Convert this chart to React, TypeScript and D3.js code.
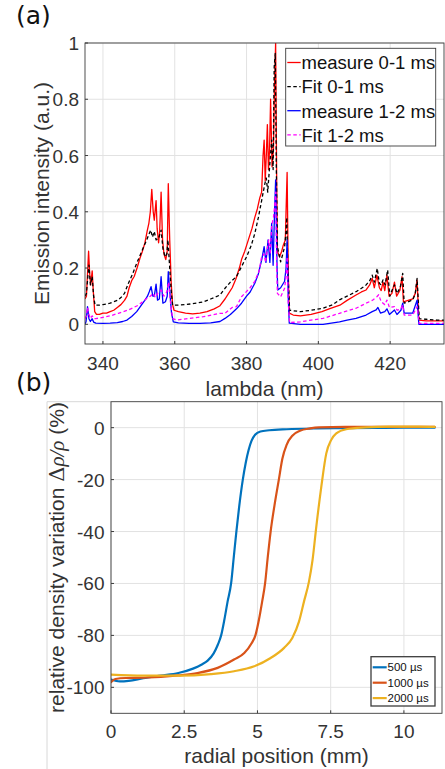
import React from 'react';
import * as d3 from 'd3';

// ---------- Panel (a): emission spectra ----------
const measure01: [number, number][] = [
  [335.0, 0.09], [335.4, 0.10], [335.7, 0.18], [336.0, 0.26], [336.3, 0.18], [336.6, 0.14], [337.0, 0.19],
  [337.3, 0.12], [337.7, 0.045], [338.2, 0.035], [339, 0.035], [340, 0.04], [341, 0.04], [342, 0.045],
  [343, 0.05], [344, 0.06], [345, 0.07], [346, 0.085], [346.7, 0.1], [347.3, 0.13], [348, 0.155],
  [348.7, 0.17], [349.5, 0.2], [350.3, 0.235], [351, 0.26], [351.7, 0.29], [352.3, 0.33], [352.8, 0.36],
  [353.2, 0.40], [353.6, 0.48], [354.0, 0.40], [354.3, 0.37], [354.8, 0.44], [355.1, 0.34], [355.5, 0.29],
  [355.8, 0.33], [356.2, 0.47], [356.6, 0.30], [357.0, 0.25], [357.5, 0.23], [357.9, 0.26], [358.2, 0.50],
  [358.6, 0.30], [359.0, 0.15], [359.4, 0.07], [359.8, 0.05], [361, 0.045], [363, 0.04], [365, 0.037],
  [367, 0.04], [369, 0.045], [371, 0.055], [372.5, 0.065], [374, 0.09], [375, 0.11], [376, 0.13],
  [377, 0.16], [378, 0.2], [378.6, 0.23], [379.5, 0.26], [380.5, 0.3], [381.5, 0.34], [382.3, 0.38],
  [383, 0.41], [383.7, 0.45], [384.2, 0.47], [384.6, 0.60], [384.9, 0.655], [385.2, 0.51], [385.5, 0.60],
  [385.8, 0.71], [386.1, 0.55], [386.4, 0.62], [386.7, 0.80], [387.1, 0.56], [387.5, 0.62], [387.8, 0.85],
  [388.1, 1.0], [388.4, 0.50], [388.6, 0.26], [389.2, 0.24], [389.8, 0.26], [390.2, 0.28], [390.8, 0.30],
  [391.0, 0.40], [391.3, 0.54], [391.6, 0.20], [391.9, 0.04], [393, 0.033], [395, 0.03], [398, 0.035],
  [401, 0.045], [403, 0.055], [406, 0.068], [408, 0.085], [410.5, 0.104], [412, 0.115], [413.3, 0.122],
  [414.3, 0.14], [415, 0.163], [415.6, 0.13], [416.3, 0.175], [417, 0.13], [417.5, 0.12], [418, 0.15],
  [418.5, 0.12], [419.1, 0.175], [419.7, 0.10], [420.5, 0.11], [421.2, 0.15], [421.8, 0.10], [422.7, 0.12],
  [423.3, 0.169], [423.7, 0.08], [425, 0.085], [426.3, 0.09], [427.0, 0.11], [427.5, 0.157], [428.0, 0.015],
  [430, 0.012], [433, 0.012], [435, 0.012],
];

const fit01: [number, number][] = [
  [335, 0.10], [335.4, 0.11], [335.8, 0.17], [336.1, 0.21], [336.5, 0.14], [337.0, 0.17], [337.4, 0.10],
  [337.8, 0.068], [339, 0.068], [340, 0.07], [342, 0.075], [344, 0.085], [345, 0.095], [346, 0.11],
  [347.1, 0.146], [348.3, 0.18], [349.4, 0.217], [350.5, 0.25], [351.5, 0.28], [352.2, 0.30], [352.8, 0.32],
  [353.3, 0.335], [353.8, 0.31], [354.3, 0.33], [354.8, 0.30], [355.5, 0.305], [356.2, 0.335], [356.7, 0.27],
  [357.3, 0.24], [357.8, 0.25], [358.1, 0.30], [358.5, 0.22], [359, 0.12], [359.4, 0.068], [360.6, 0.068],
  [363, 0.07], [366, 0.075], [368, 0.08], [370, 0.09], [372.6, 0.104], [374, 0.128], [375.5, 0.15],
  [377.2, 0.17], [378.6, 0.205], [380, 0.24], [381.3, 0.28], [382.3, 0.323], [383.3, 0.38], [384.2, 0.44],
  [384.8, 0.48], [385.1, 0.50], [385.5, 0.52], [385.9, 0.47], [386.3, 0.54], [387, 0.655], [387.4, 0.55],
  [387.7, 0.915], [388.0, 0.963], [388.3, 0.55], [388.6, 0.276], [389.5, 0.222], [390.1, 0.25],
  [390.6, 0.276], [391.0, 0.33], [391.2, 0.38], [391.5, 0.2], [392, 0.05], [395, 0.045], [398, 0.05],
  [401.3, 0.057], [404, 0.07], [405.9, 0.087], [408, 0.10], [410.5, 0.116], [412, 0.128], [413.3, 0.14],
  [414.3, 0.155], [415, 0.175], [415.6, 0.15], [416.4, 0.199], [417, 0.145], [417.5, 0.14], [418, 0.158],
  [418.6, 0.14], [419.3, 0.193], [419.9, 0.10], [420.5, 0.12], [421.2, 0.14], [421.9, 0.11], [422.8, 0.13],
  [423.5, 0.181], [423.9, 0.075], [425, 0.08], [426.3, 0.087], [427.0, 0.11], [427.5, 0.163], [428.1, 0.02],
  [430, 0.018], [433, 0.015], [435, 0.015],
];

const measure12: [number, number][] = [
  [335, 0.0], [335.3, 0.01], [335.7, 0.063], [336.1, 0.02], [336.5, 0.01], [337, 0.02], [337.4, 0.008],
  [338, 0.004], [340, 0.003], [342, 0.004], [344, 0.006], [345.5, 0.01], [346.7, 0.015], [348, 0.028],
  [349.4, 0.045], [350.5, 0.065], [351.7, 0.086], [352.4, 0.1], [352.9, 0.116], [353.4, 0.134], [353.9, 0.10],
  [354.3, 0.10], [354.8, 0.143], [355.2, 0.086], [355.7, 0.09], [356.2, 0.169], [356.7, 0.075], [357.4, 0.08],
  [357.9, 0.10], [358.2, 0.187], [358.6, 0.12], [359.1, 0.04], [359.6, 0.009], [361, 0.005], [364, 0.003],
  [367, 0.003], [370, 0.005], [372.6, 0.01], [374, 0.021], [375.5, 0.035], [377.2, 0.055], [378.6, 0.075],
  [380, 0.1], [381, 0.115], [382.3, 0.146], [383.3, 0.18], [384.2, 0.228], [384.9, 0.276], [385.4, 0.22],
  [386, 0.30], [386.5, 0.22], [387, 0.359], [387.4, 0.21], [387.8, 0.40], [388.1, 0.513], [388.5, 0.2],
  [388.7, 0.122], [389.5, 0.13], [390.6, 0.153], [391.0, 0.2], [391.3, 0.30], [391.6, 0.1], [391.9, 0.004],
  [395, 0.0], [401.3, 0.0], [405.9, 0.009], [408, 0.015], [410.5, 0.021], [413.3, 0.033], [415, 0.045],
  [416.1, 0.051], [416.6, 0.06], [417.3, 0.04], [418.5, 0.045], [419.1, 0.055], [419.8, 0.035], [421.2, 0.051],
  [421.9, 0.035], [423.0, 0.05], [423.5, 0.075], [423.9, 0.04], [426.3, 0.04], [427.5, 0.086], [428.0, 0.0],
  [435, 0.0],
];

const fit12: [number, number][] = [
  [335, 0.02], [335.4, 0.03], [335.7, 0.06], [336.1, 0.035], [336.5, 0.021], [337, 0.03], [337.5, 0.02],
  [338, 0.02], [340, 0.025], [342, 0.03], [344.3, 0.039], [347.1, 0.051], [349.9, 0.068], [352.2, 0.092],
  [353.2, 0.1], [354, 0.11], [354.6, 0.095], [355.2, 0.11], [356.2, 0.122], [357, 0.1], [357.8, 0.115],
  [358.3, 0.15], [358.8, 0.08], [359.4, 0.02], [360.6, 0.015], [364, 0.021], [368, 0.027], [372.6, 0.039],
  [374, 0.039], [376, 0.06], [377.2, 0.063], [378.6, 0.098], [381, 0.13], [382.3, 0.153], [383.5, 0.19],
  [384.2, 0.24], [384.9, 0.25], [385.3, 0.22], [385.8, 0.27], [386.2, 0.30], [386.6, 0.25], [387, 0.35],
  [387.5, 0.38], [387.9, 0.43], [388.1, 0.47], [388.4, 0.2], [388.6, 0.11], [389.5, 0.098], [390.6, 0.128],
  [391.0, 0.17], [391.3, 0.24], [391.6, 0.08], [392.0, 0.006], [395, 0.009], [398, 0.015], [401.3, 0.021],
  [405.9, 0.039], [410.5, 0.057], [413.3, 0.075], [415, 0.085], [416.3, 0.098], [416.8, 0.105], [417.5, 0.08],
  [418.5, 0.07], [419.1, 0.086], [419.8, 0.06], [421.2, 0.063], [422, 0.05], [423, 0.055], [423.5, 0.069],
  [423.9, 0.033], [426.3, 0.033], [427.5, 0.063], [428.1, 0.003], [435, 0.003],
];

const spectrumNames = ['measure 0-1 ms', 'Fit 0-1 ms', 'measure 1-2 ms', 'Fit 1-2 ms'];
const spectrumColors = ['#ff0000', '#000000', '#0000ff', '#ff00ff'];
const spectrumDashed = [false, true, false, true];
const lambdaTicks = [340, 360, 380, 400, 420];
const intensityTicks = [0, 0.2, 0.4, 0.6, 0.8, 1];

// ---------- Panel (b): density profiles ----------
const profile500: [number, number][] = [
  [0, -97], [0.3, -97.7], [0.6, -97.5], [1.1, -96.5], [1.7, -95.5], [2.3, -94.5], [2.8, -92.8], [3.1, -91.2],
  [3.3, -89.7], [3.5, -87], [3.65, -83.5], [3.76, -80], [3.87, -74], [3.98, -67], [4.1, -60], [4.19, -50],
  [4.28, -40], [4.38, -30], [4.5, -20], [4.6, -13.5], [4.7, -8.5], [4.8, -5], [4.92, -2.7], [5.1, -1.5],
  [5.4, -1], [6, -0.6], [7, -0.3], [8, -0.2], [9, -0.1], [10, 0], [11.05, 0],
];
const profile1000: [number, number][] = [
  [0, -98], [0.15, -96.8], [0.5, -96.4], [1.1, -96.3], [2.3, -95.4], [2.95, -94.5], [3.64, -92.5],
  [4.2, -89.3], [4.55, -86.8], [4.8, -83], [4.93, -80], [5.05, -74], [5.16, -67], [5.26, -60], [5.35, -50],
  [5.45, -40], [5.58, -30], [5.73, -20], [5.85, -12], [6.0, -6.5], [6.2, -3], [6.45, -1.2], [6.8, -0.3],
  [7.1, 0.1], [8, 0.3], [9, 0.3], [10, 0.3], [11.05, 0.3],
];
const profile2000: [number, number][] = [
  [0, -95.1], [1.1, -95.5], [2.3, -95.5], [3.41, -94.9], [4.2, -93.8], [4.89, -91.9], [5.45, -88.7],
  [5.91, -84.8], [6.19, -81], [6.42, -74.6], [6.59, -66.9], [6.76, -59.2], [6.88, -51], [7.01, -38],
  [7.18, -22.7], [7.35, -9.9], [7.52, -4.7], [7.69, -2.2], [8.03, -0.6], [8.7, 0.1], [9.5, 0.4],
  [10.5, 0.4], [11.05, 0.3],
];
const profileNames = ['500 µs', '1000 µs', '2000 µs'];
const profileColors = ['#0072bd', '#d95319', '#edb120'];
const radialTicks = [0, 2.5, 5, 7.5, 10];
const densityTicks = [-100, -80, -60, -40, -20, 0];

const FONT = '"Liberation Sans", Arial, Helvetica, sans-serif';
const TXT = '#333333';
const AX = '#3c3c3c';
const GRID = '#e2e2e2';

export default function App() {
  // panel (a)
  const xa = d3.scaleLinear().domain([335, 435]).range([85, 444]);
  const ya = d3.scaleLinear().domain([-0.07, 1]).range([344, 43]);
  const lineA = d3.line<[number, number]>().x(d => xa(d[0])).y(d => ya(d[1]));
  const spectra = [measure01, fit01, measure12, fit12];

  // panel (b)
  const xb = d3.scaleLinear().domain([0, 11.3]).range([111, 442]);
  const yb = d3.scaleLinear().domain([-110, 10]).range([713.3, 401.7]);
  const lineB = d3.line<[number, number]>().x(d => xb(d[0])).y(d => yb(d[1])).curve(d3.curveMonotoneX);
  const profiles = [profile500, profile1000, profile2000];

  const [ax0, ax1] = xa.range();
  const [ay0, ay1] = ya.range();
  const [bx0, bx1] = xb.range();
  const [by0, by1] = yb.range();

  return (
    <svg width={445} height={769} style={{ position: 'absolute', left: 0, top: 0, background: '#fff' }}
      fontFamily={FONT}>
      <rect x={0} y={0} width={445} height={769} fill="#fff" />
      {/* ===== Panel (a) ===== */}
      <text x={16} y={24} fontSize={25} fill="#111" fontFamily='"DejaVu Sans", sans-serif'>(a)</text>
      <defs>
        <clipPath id="clipA"><rect x={ax0} y={ay1} width={ax1 - ax0} height={ay0 - ay1} /></clipPath>
        <clipPath id="clipB"><rect x={bx0} y={by1} width={bx1 - bx0} height={by0 - by1} /></clipPath>
      </defs>
      {lambdaTicks.map(t => (
        <line key={'ga' + t} x1={xa(t)} x2={xa(t)} y1={ay1} y2={ay0} stroke={GRID} strokeWidth={1} />
      ))}
      {intensityTicks.map(t => (
        <line key={'gya' + t} x1={ax0} x2={ax1} y1={ya(t)} y2={ya(t)} stroke={GRID} strokeWidth={1} />
      ))}
      <g clipPath="url(#clipA)">
        {spectra.map((s, i) => (
          <path key={'s' + i} d={lineA(s) || ''} fill="none" stroke={spectrumColors[i]}
            strokeWidth={1.3} strokeDasharray={spectrumDashed[i] ? '3.5,2.5' : undefined}
            strokeLinejoin="round" />
        ))}
      </g>
      <rect x={ax0} y={ay1} width={ax1 - ax0} height={ay0 - ay1} fill="none" stroke={AX} strokeWidth={0.9} />
      {lambdaTicks.map(t => (
        <g key={'ta' + t}>
          <line x1={xa(t)} x2={xa(t)} y1={ay0} y2={ay0 - 3} stroke={AX} />
          <text x={xa(t)} y={370} textAnchor="middle" fontSize={19} fill={TXT}>{t}</text>
        </g>
      ))}
      {intensityTicks.map(t => (
        <g key={'tya' + t}>
          <line x1={ax0} x2={ax0 + 3} y1={ya(t)} y2={ya(t)} stroke={AX} />
          <text x={79} y={ya(t) + 7} textAnchor="end" fontSize={19} fill={TXT}>{d3.format('~g')(t)}</text>
        </g>
      ))}
      <text x={(ax0 + ax1) / 2} y={396} textAnchor="middle" fontSize={21} fill={TXT}>lambda (nm)</text>
      <text transform={`translate(48.5,${(ay0 + ay1) / 2}) rotate(-90)`} textAnchor="middle" fontSize={21}
        fill={TXT}>Emission intensity (a.u.)</text>

      {/* legend (a) */}
      <rect x={285.7} y={48.3} width={150} height={97.7} fill="#fff" stroke={AX} strokeWidth={0.9} />
      {spectrumNames.map((n, i) => {
        const yb0 = 69.3 + i * 24.1;
        return (
          <g key={'la' + i}>
            <line x1={287.3} x2={300.7} y1={yb0 - 6.8} y2={yb0 - 6.8} stroke={spectrumColors[i]} strokeWidth={1.3}
              strokeDasharray={spectrumDashed[i] ? '3.5,2.5' : undefined} />
            <text x={301.5} y={yb0} fontSize={18.5} fill="#111">{n}</text>
          </g>
        );
      })}

      {/* ===== Panel (b) ===== */}
      <text x={16} y={391} fontSize={25} fill="#111" fontFamily='"DejaVu Sans", sans-serif'>(b)</text>
      <line x1={47} x2={47} y1={401.7} y2={769} stroke="#d8d8d8" strokeWidth={1} />
      <line x1={47} x2={bx0} y1={401.7} y2={401.7} stroke="#d8d8d8" strokeWidth={1} />
      {radialTicks.map(t => (
        <line key={'gb' + t} x1={xb(t)} x2={xb(t)} y1={by1} y2={by0} stroke={GRID} strokeWidth={1} />
      ))}
      {densityTicks.map(t => (
        <line key={'gyb' + t} x1={bx0} x2={bx1} y1={yb(t)} y2={yb(t)} stroke={GRID} strokeWidth={1} />
      ))}
      <g clipPath="url(#clipB)">
        {profiles.map((p, i) => (
          <path key={'p' + i} d={lineB(p) || ''} fill="none" stroke={profileColors[i]} strokeWidth={2.2}
            strokeLinejoin="round" strokeLinecap="round" />
        ))}
      </g>
      <rect x={bx0} y={by1} width={bx1 - bx0} height={by0 - by1} fill="none" stroke={AX} strokeWidth={0.9} />
      {radialTicks.map(t => (
        <g key={'tb' + t}>
          <line x1={xb(t)} x2={xb(t)} y1={by0} y2={by0 - 3} stroke={AX} />
          <text x={xb(t)} y={738} textAnchor="middle" fontSize={19} fill={TXT}>{t}</text>
        </g>
      ))}
      {densityTicks.map(t => (
        <g key={'tyb' + t}>
          <line x1={bx0} x2={bx0 + 3} y1={yb(t)} y2={yb(t)} stroke={AX} />
          <text x={104.5} y={yb(t) + 7} textAnchor="end" fontSize={19} fill={TXT}>{t}</text>
        </g>
      ))}
      <text x={(bx0 + bx1) / 2} y={762.5} textAnchor="middle" fontSize={21} fill={TXT}>radial position (mm)</text>
      <text transform={`translate(63.5,${(by0 + by1) / 2}) rotate(-90)`} textAnchor="middle" fontSize={21}
        fill={TXT}>
        relative density variation{' '}
        <tspan fontFamily='"DejaVu Serif", "Liberation Serif", serif'>Δ</tspan>
        <tspan fontFamily='"Liberation Serif", serif' fontStyle="italic">ρ/ρ</tspan>
        {' '}(%)
      </text>

      {/* legend (b) */}
      <rect x={371} y={656.7} width={64} height={49.3} fill="#fff" stroke={AX} strokeWidth={1.3} />
      {profileNames.map((n, i) => {
        const ly = 667.3 + i * 15.4;
        return (
          <g key={'lb' + i}>
            <line x1={372.7} x2={386.7} y1={ly} y2={ly} stroke={profileColors[i]} strokeWidth={2.2} />
            <text x={387.5} y={ly + 4} fontSize={11.5} fill="#111">{n}</text>
          </g>
        );
      })}
    </svg>
  );
}
